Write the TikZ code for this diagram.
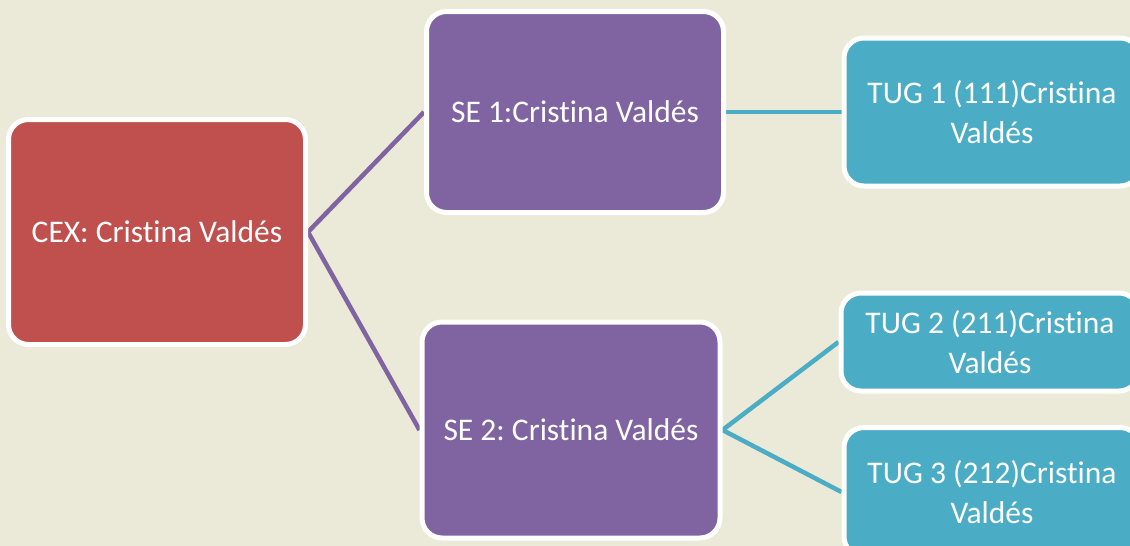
\documentclass[tikz,border=0pt]{standalone}
\usepackage{fontspec}
\setmainfont{Carlito}[Ligatures={NoCommon,NoRequired,NoContextual,NoRare},Contextuals=NoAlternate]
\frenchspacing
\usetikzlibrary{backgrounds}
\definecolor{bgbeige}{RGB}{235,233,216}
\definecolor{cexred}{RGB}{192,80,77}
\definecolor{sepurple}{RGB}{128,100,162}
\definecolor{tugteal}{RGB}{75,172,198}
\tikzset{
  boxbase/.style={draw=white, line width=5pt, rounded corners=20pt, text=white,
    align=center, inner sep=0pt, font=\fontsize{31.5}{40}\selectfont\frenchspacing},
  cexbox/.style={boxbase, fill=cexred},
  sebox/.style={boxbase, fill=sepurple},
  tugbox/.style={boxbase, fill=tugteal},
  purplelink/.style={draw=sepurple, line width=4.5pt},
  teallink/.style={draw=tugteal, line width=4.5pt},
}
\begin{document}
\begin{tikzpicture}[x=1pt,y=-1pt]
\useasboundingbox (0,0) rectangle (1130,546);
\clip (0,0) rectangle (1130,546);
\node[cexbox, minimum width=297pt, minimum height=225pt] (cex) at (157,232) {CEX: Cristina Valdés};
\node[sebox, minimum width=297pt, minimum height=201pt] (se1) at (575,112) {SE 1:Cristina Valdés};
\node[sebox, minimum width=298pt, minimum height=216pt] (se2) at (571,430) {SE 2: Cristina Valdés};
\node[tugbox, minimum width=296pt, minimum height=148pt] (tug1) at (992,112) {TUG 1 (111)Cristina\\Valdés};
\node[tugbox, minimum width=298pt, minimum height=98pt] (tug2) at (990,342) {TUG 2 (211)Cristina\\Valdés};
\node[tugbox, minimum width=296pt, minimum height=129pt] (tug3) at (992,492) {TUG 3 (212)Cristina\\Valdés};
\begin{scope}[on background layer]
\fill[bgbeige] (0,0) rectangle (1130,546);
\draw[purplelink] (cex.east) -- (se1.west);
\draw[purplelink] (cex.east) -- (se2.west);
\draw[teallink] (se1.east) -- (tug1.west);
\draw[teallink] (se2.east) -- (tug2.west);
\draw[teallink] (se2.east) -- (tug3.west);
\end{scope}
\end{tikzpicture}
\end{document}
